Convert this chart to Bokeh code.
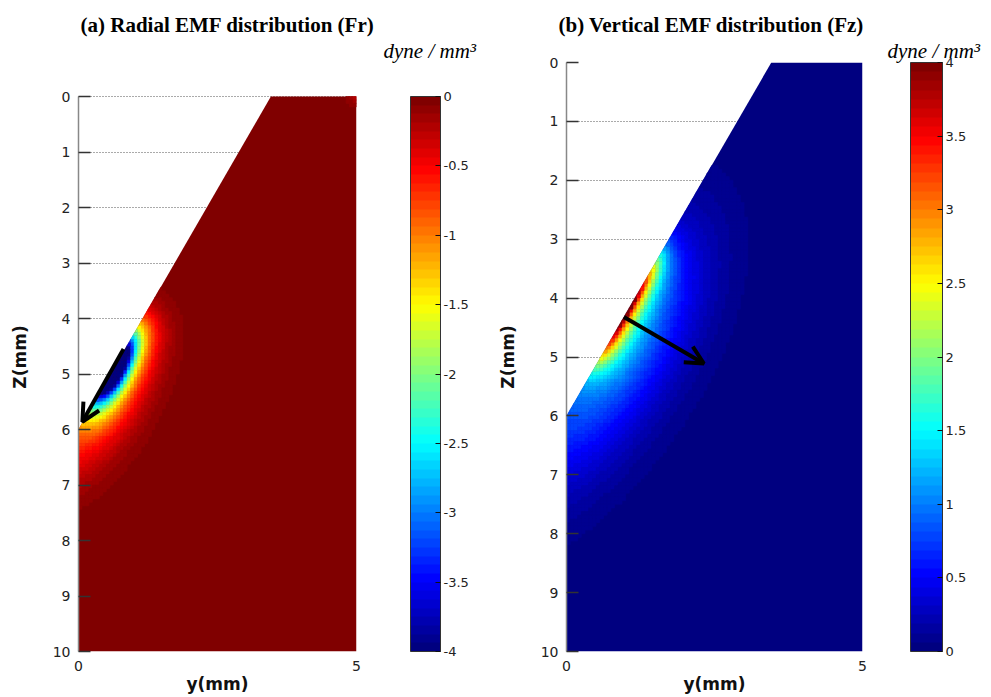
import numpy as np
from bokeh.plotting import figure
from bokeh.models import (Range1d, LinearColorMapper, ColorBar, FixedTicker, Title,
                          Arrow, OpenHead, ColumnDataSource, PrintfTickFormatter)
from bokeh.layouts import row
from bokeh.embed import file_html
from bokeh.resources import INLINE

# ---------------- values ----------------
z_ticks = [0, 1, 2, 3, 4, 5, 6, 7, 8, 9, 10]           # Z(mm) axis
y_ticks = [0, 5]                                        # y(mm) axis
fr_bar_ticks = [-4, -3.5, -3, -2.5, -2, -1.5, -1, -0.5, 0]
fz_bar_ticks = [0, 0.5, 1, 1.5, 2, 2.5, 3, 3.5, 4]
fr_range = [-4, 0]
fz_range = [0, 4]

# cross-section of the part (mm): slanted face from (y=0, z=6) up to (y=3.46, z=0)
body_y = [0.0, 3.46, 5.0, 5.0, 0.0]
body_z = [6.0, 0.0, 0.0, 10.0, 10.0]

# Fr field (dyne/mm^3): strong layer on the slanted face + broad weak halo
fr_core = [10.0, 1.22, 3.0, 2.4, 0.17, 1.3]  # amplitude, centre along face, stretch up, stretch down, skin depth, cut-off
fr_halo = [0.9, 0.5, 1.4, 0.7]               # amplitude, centre along face, length, depth
fr_tip = [0.3, 0.12]                         # weak spot at top-right corner: amplitude, radius

# Fz field (dyne/mm^3)
fz_core = [3.4, 2.1, 10.0, 0.17, 1.2]       # amplitude, centre along face, stretch, skin depth, cut-off
fz_halo = [1.2, 1.5, 2.0, 2.5, 1.05]        # amplitude, centre along face, length up, length down, depth

# force-direction arrows: tail (y, z), head (y, z)
fr_arrow = [[0.81, 4.55], [0.07, 5.86]]
fz_arrow = [[0.97, 4.32], [2.32, 5.11]]

UNIT = "dyne / mm³"


# ---------------- jet colour map (64 levels, as in the colour bars) ----------------
def jet(n=64):
    out = []
    for i in range(n):
        x = i / (n - 1)
        r = min(max(1.5 - abs(4 * x - 3), 0), 1)
        g = min(max(1.5 - abs(4 * x - 2), 0), 1)
        b = min(max(1.5 - abs(4 * x - 1), 0), 1)
        out.append("#%02x%02x%02x" % (round(r * 255), round(g * 255), round(b * 255)))
    return out


JET = jet(64)

# ---------------- mesh in face-aligned coordinates ----------------
CELL = 0.0625
HALF = CELL / 2
yc = np.arange(HALF, 5, CELL)
zc = np.arange(HALF, 10, CELL)
Yg, Zg = np.meshgrid(yc, zc)
dy, dz = body_y[1] - body_y[0], body_z[1] - body_z[0]
L = np.hypot(dy, dz)
ty, tz = dy / L, dz / L          # along the face, upward
ny, nz = -tz, ty                 # into the material


def depth(y, z):
    return (y - body_y[0]) * ny + (z - body_z[0]) * nz


S = (Yg - body_y[0]) * ty + (Zg - body_z[0]) * tz
N = depth(Yg, Zg)
reach = (abs(ny) + abs(nz)) * HALF
full = (N - reach) >= 0
partial = ((N + reach) > 0) & ((N - reach) < 0)
Np = np.maximum(N, 0)

# Fr
a, s0, kup, kdn, d, cut = fr_core
ds = S - s0
k = np.where(ds > 0, kup, kdn)
core = a * np.exp(-np.sqrt((ds / k) ** 2 + Np ** 2) / d) * np.exp(-(ds / cut) ** 4)
ha, hs, hl, hd = fr_halo
halo = ha * np.exp(-((S - hs) / hl) ** 2 - (Np / hd) ** 2)
ta, tl = fr_tip
tip = ta * np.exp(-np.hypot(Yg - body_y[2], Zg - body_z[2]) / tl)
fr = -np.clip(core + halo + tip, 0, 4)

# Fz
a, s0, k, d, cut = fz_core
ds = S - s0
core = a * np.exp(-np.sqrt((ds / k) ** 2 + Np ** 2) / d) * np.exp(-(ds / cut) ** 4)
ha, hs, lu, ld, hd = fz_halo
hl = np.where(S > hs, lu, ld)
halo = ha * np.exp(-((S - hs) / hl) ** 2 - (Np / hd) ** 2)
fz = np.clip(core + halo, 0, 4)

step = 4 / 64


def full_cells(field, keep):
    m = full & keep
    return ColumnDataSource(dict(left=Yg[m] - HALF, right=Yg[m] + HALF,
                                 top=Zg[m] - HALF, bottom=Zg[m] + HALF, val=field[m]))


def edge_cells(field, keep):
    xs, ys, vals = [], [], []
    m = partial & keep
    for y, z, v in zip(Yg[m], Zg[m], field[m]):
        pts = [(y - HALF, z - HALF), (y + HALF, z - HALF), (y + HALF, z + HALF), (y - HALF, z + HALF)]
        out = []
        for i in range(4):
            p, q = pts[i], pts[(i + 1) % 4]
            dp, dq = depth(*p), depth(*q)
            if dp >= 0:
                out.append(p)
            if (dp >= 0) != (dq >= 0):
                t = dp / (dp - dq)
                out.append((p[0] + t * (q[0] - p[0]), p[1] + t * (q[1] - p[1])))
        if len(out) >= 3:
            xs.append([o[0] for o in out])
            ys.append([o[1] for o in out])
            vals.append(v)
    return ColumnDataSource(dict(xs=xs, ys=ys, val=vals))


# both frames share top and bottom edges in a row (pixels)
FRAME_TOP, FRAME_BOTTOM = 62, 651


def make_panel(width, left, right, z_top_px, z_bot_px, field, keep, mapper, bg, bar_ticks,
               bar_x, bar_w, arrow, title, title_offset, unit_offset):
    px_per_mm = (z_bot_px - z_top_px) / 10
    z_lo = (FRAME_TOP - z_top_px) / px_per_mm
    z_hi = (FRAME_BOTTOM - z_top_px) / px_per_mm
    p = figure(width=width, height=697, x_range=Range1d(0, 5), y_range=Range1d(z_hi, z_lo),
               output_backend="svg", toolbar_location=None, title_location=None,
               min_border_left=left, min_border_right=right,
               min_border_top=FRAME_TOP, min_border_bottom=697 - FRAME_BOTTOM)
    p.outline_line_color = None
    p.background_fill_color = "white"
    p.border_fill_color = "white"
    p.xgrid.visible = False
    p.ygrid.ticker = FixedTicker(ticks=z_ticks)
    p.ygrid.grid_line_color = "#555555"
    p.ygrid.grid_line_dash = "1 2"
    p.ygrid.grid_line_width = 1

    # titles stack outward from the frame: unit line first, then the panel title
    p.add_layout(Title(text=UNIT, text_font="Liberation Serif", text_font_style="italic",
                       text_font_size="21px", text_color="black", align="left",
                       offset=unit_offset, standoff=0), "above")
    p.add_layout(Title(text=title, text_font="Liberation Serif", text_font_style="bold",
                       text_font_size="21px", text_color="black", align="left",
                       offset=title_offset, standoff=0), "above")

    p.patch(body_y, body_z, fill_color=bg, line_color=None)
    tr = {"field": "val", "transform": mapper}
    p.quad(left="left", right="right", top="top", bottom="bottom",
           source=full_cells(field, keep), fill_color=tr, line_color=tr, line_width=0.6)
    p.patches("xs", "ys", source=edge_cells(field, keep), fill_color=tr, line_color=tr,
              line_width=0.3)

    p.yaxis.ticker = FixedTicker(ticks=z_ticks)
    p.yaxis.bounds = (z_ticks[0], z_ticks[-1])
    p.xaxis.ticker = FixedTicker(ticks=y_ticks)
    p.yaxis.axis_label = "Z(mm)"
    p.xaxis.axis_label = "y(mm)"
    for ax in (p.xaxis[0], p.yaxis[0]):
        ax.axis_label_text_font = "DejaVu Sans"
        ax.axis_label_text_font_style = "bold"
        ax.axis_label_text_font_size = "17px"
        ax.axis_label_text_color = "#111111"
        ax.major_label_text_font = "DejaVu Sans"
        ax.major_label_text_font_size = "14px"
        ax.major_label_text_color = "#222222"
        ax.minor_tick_line_color = None
    p.yaxis.major_tick_in = 12
    p.yaxis.major_tick_out = 0
    p.yaxis.major_tick_line_color = "#333333"
    p.yaxis.major_tick_line_width = 1.5
    p.yaxis.axis_line_color = "#888888"
    p.yaxis.axis_line_width = 1.5
    p.yaxis.major_label_standoff = 8
    p.yaxis.axis_label_standoff = 20
    p.xaxis.axis_line_color = None
    p.xaxis.major_tick_line_color = None
    p.xaxis.major_label_standoff = 3
    p.xaxis.axis_label_standoff = 0

    cb = ColorBar(color_mapper=mapper, ticker=FixedTicker(ticks=bar_ticks),
                  formatter=PrintfTickFormatter(format="%g"),
                  location=(bar_x, FRAME_BOTTOM - z_bot_px), width=bar_w,
                  height=int(round(z_bot_px - z_top_px)), padding=0, margin=0,
                  major_tick_in=5, major_tick_out=0, major_tick_line_color="#111111",
                  bar_line_color="#333333", label_standoff=3,
                  major_label_text_font="DejaVu Sans", major_label_text_font_size="13px",
                  major_label_text_color="#222222",
                  background_fill_color=None, border_line_color=None)
    p.add_layout(cb)

    (y0, z0), (y1, z1) = arrow
    p.add_layout(Arrow(x_start=y0, y_start=z0, x_end=y1, y_end=z1, line_width=4,
                       line_color="black",
                       end=OpenHead(size=18, line_width=4, line_color="black")))
    return p


fr_mapper = LinearColorMapper(palette=JET, low=fr_range[0], high=fr_range[1])
fz_mapper = LinearColorMapper(palette=JET, low=fz_range[0], high=fz_range[1])

pa = make_panel(490, 78, 134, 96, 651, fr, fr < -step, fr_mapper, JET[-1],
                fr_bar_ticks, 332, 30, fr_arrow, "(a) Radial EMF distribution (Fr)", 2, 305)
pb = make_panel(501, 76, 129, 62, 651, fz, fz > step, fz_mapper, JET[0],
                fz_bar_ticks, 344, 32, fz_arrow, "(b) Vertical EMF distribution (Fz)", -8, 321)

layout = row(pa, pb)
open("out.html", "w").write(file_html(layout, INLINE))
